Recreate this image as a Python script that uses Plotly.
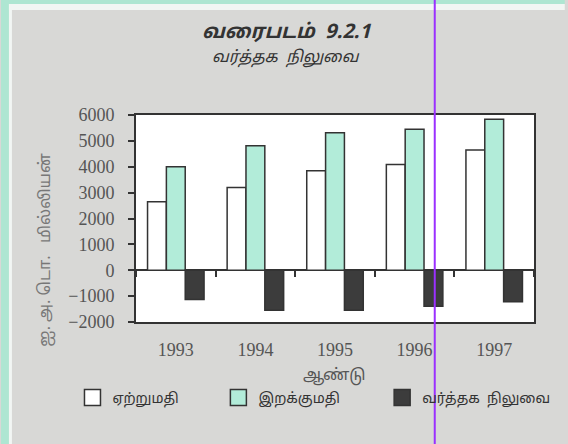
import plotly.graph_objects as go

years = ["1993", "1994", "1995", "1996", "1997"]
exports = [2650, 3200, 3850, 4090, 4650]
imports = [4000, 4810, 5310, 5450, 5840]
balance = [-1130, -1550, -1550, -1390, -1220]

series_names = ["ஏற்றுமதி", "இறக்குமதி", "வர்த்தக  நிலுவை"]
y_ticks = [-2000, -1000, 0, 1000, 2000, 3000, 4000, 5000, 6000]

TAMIL = "Noto Sans Tamil, Lohit Tamil, Noto Serif Tamil, FreeSerif, sans-serif"
SERIF = "Liberation Serif, Times New Roman, serif"
EDGE = "#333333"
fills = ["#ffffff", "#b2ecd9", "#3c3c3c"]

W, H = 568, 444
L, R, T, B = 136, 31, 115, 122
pw, ph = W - L - R, H - T - B


def px(xpx):
    return (xpx - L) / pw


def py(ypx):
    return (H - B - ypx) / ph


legend_lefts = [72, 219, 384]
legend_ids = ["legend", "legend2", "legend3"]

fig = go.Figure()
for name, vals, col, lid in zip(series_names, [exports, imports, balance], fills, legend_ids):
    fig.add_trace(go.Bar(x=years, y=vals, name=name, marker=dict(color=col, line=dict(color=EDGE, width=1.5)),
                         showlegend=False, hoverinfo="skip"))
    # legend-only proxy with a larger square symbol
    fig.add_trace(go.Scatter(x=[None], y=[None], mode="markers", name=name, legend=lid,
                             marker=dict(symbol="square", size=16, color=col, line=dict(color=EDGE, width=1.5))))

# helper trace for the boundary ticks drawn on the zero line
fig.add_trace(go.Scatter(x=years, y=[None] * len(years), xaxis="x2", showlegend=False, hoverinfo="skip"))

ymin, ymax = -2000, 6000
zero_frac = (0 - ymin) / (ymax - ymin)

legend_common = dict(orientation="h", y=py(398), xanchor="left", yanchor="middle",
                     bgcolor="rgba(0,0,0,0)", font=dict(family=TAMIL, size=14, color="#333333"),
                     itemclick=False, itemdoubleclick=False)

fig.update_layout(
    width=W, height=H,
    margin=dict(l=L, r=R, t=T, b=B),
    paper_bgcolor="#d8d8d6",
    plot_bgcolor="#ffffff",
    barmode="group", bargap=0.29, bargroupgap=0,
    showlegend=True,
    legend=dict(x=px(legend_lefts[0]), **legend_common),
    legend2=dict(x=px(legend_lefts[1]), **legend_common),
    legend3=dict(x=px(legend_lefts[2]), **legend_common),
    xaxis=dict(type="category", categoryorder="array", categoryarray=years,
               showline=True, linecolor=EDGE, linewidth=2, mirror=True, ticks="",
               tickfont=dict(family=SERIF, size=18, color="#555555"), ticklabelstandoff=10,
               showgrid=False, zeroline=False),
    xaxis2=dict(type="category", overlaying="x", matches="x", anchor="free", position=zero_frac,
                side="bottom", ticks="outside", tickson="boundaries", ticklen=6, tickwidth=1.5,
                tickcolor=EDGE, showticklabels=False, showline=False, showgrid=False, zeroline=False),
    yaxis=dict(range=[ymin, ymax], tickvals=y_ticks, ticks="outside", ticklen=6, tickwidth=1.5,
               tickcolor=EDGE, showline=True, linecolor=EDGE, linewidth=2, mirror=True,
               tickfont=dict(family=SERIF, size=18, color="#555555"), ticklabelstandoff=10,
               showgrid=False, zeroline=True, zerolinecolor=EDGE, zerolinewidth=2),
    annotations=[
        dict(text="<b><i>வரைபடம்  9.2.1</i></b>", x=px(288), y=py(33), xref="paper", yref="paper",
             xanchor="center", yanchor="middle",
             showarrow=False, font=dict(family=TAMIL, size=20, color="#333333")),
        dict(text="<i>வர்த்தக  நிலுவை</i>", x=px(287), y=py(58), xref="paper", yref="paper",
             xanchor="center", yanchor="middle",
             showarrow=False, font=dict(family=TAMIL, size=16, color="#333333")),
        dict(text="ஆண்டு", x=px(336), y=py(376), xref="paper", yref="paper",
             xanchor="center", yanchor="middle",
             showarrow=False, font=dict(family=TAMIL, size=16, color="#555555")),
        dict(text="ஐ. அ. டொ.   மில்லியன்", x=px(45), y=py(250), xref="paper", yref="paper",
             xanchor="center", yanchor="middle",
             showarrow=False, textangle=-90, font=dict(family=TAMIL, size=16, color="#777777")),
    ],
    shapes=[
        dict(type="rect", xref="paper", yref="paper", x0=px(0), x1=px(8), y0=py(H), y1=py(0),
             fillcolor="#aee6d2", line=dict(width=0), layer="below"),
        dict(type="rect", xref="paper", yref="paper", x0=px(8), x1=px(11), y0=py(H), y1=py(4),
             fillcolor="#f2f6f4", line=dict(width=0), layer="below"),
        dict(type="rect", xref="paper", yref="paper", x0=px(0), x1=px(W), y0=py(4), y1=py(0),
             fillcolor="#aee6d2", line=dict(width=0), layer="below"),
        dict(type="rect", xref="paper", yref="paper", x0=px(8), x1=px(W), y0=py(10), y1=py(4),
             fillcolor="#f2f6f4", line=dict(width=0), layer="below"),
        dict(type="line", xref="paper", yref="paper", x0=px(437), x1=px(437), y0=py(H), y1=py(0),
             line=dict(color="#9b30ff", width=2), layer="above"),
    ],
)

fig.write_html("out.html", config={"displayModeBar": False},
               post_script="document.body.style.margin='0';")
